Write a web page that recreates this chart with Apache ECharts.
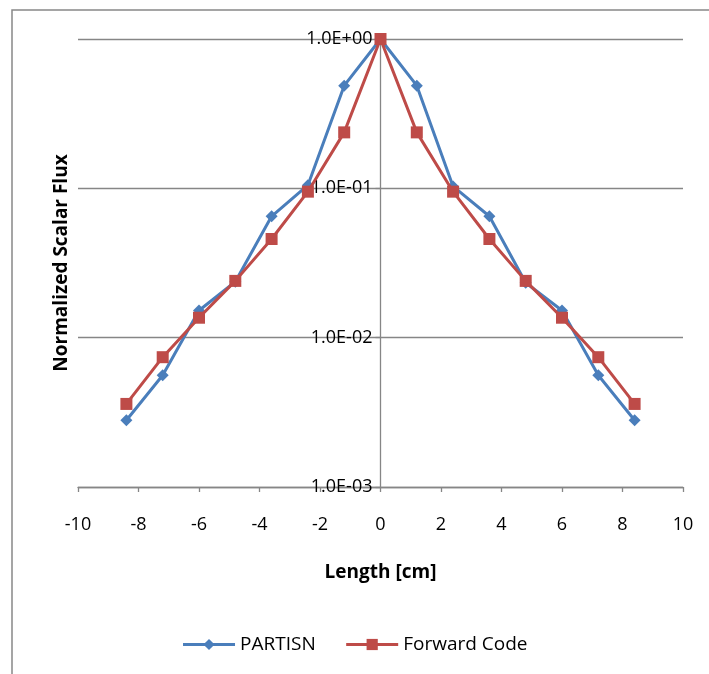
<!DOCTYPE html>
<html>
<head>
<meta charset="utf-8">
<script src="https://cdn.jsdelivr.net/npm/echarts@6/dist/echarts.min.js"></script>
<style>html,body{margin:0;padding:0;background:#fff;}#c{width:709px;height:674px;}</style>
</head>
<body>
<div id="c"></div>
<script>
var xValues = [-8.4, -7.2, -6, -4.8, -3.6, -2.4, -1.2, 0, 1.2, 2.4, 3.6, 4.8, 6, 7.2, 8.4];
var partisn = [0.0028, 0.0056, 0.0152, 0.0237, 0.065, 0.105, 0.487, 1.0, 0.487, 0.103, 0.065, 0.0233, 0.0152, 0.0056, 0.0028];
var forwardCode = [0.0036, 0.0074, 0.0136, 0.024, 0.0458, 0.095, 0.237, 1.0, 0.237, 0.095, 0.0458, 0.024, 0.0136, 0.0074, 0.0036];
var seriesNames = ['PARTISN', 'Forward Code'];
var xTitle = 'Length [cm]';
var yTitle = 'Normalized Scalar Flux';

function pairs(ys) { return xValues.map(function (x, i) { return [x, ys[i]]; }); }
function fmtE(v) {
  var e = Math.round(Math.log10(v));
  var m = v / Math.pow(10, e);
  var s = e < 0 ? '-' : '+';
  var a = Math.abs(e);
  return m.toFixed(1) + 'E' + s + (a < 10 ? '0' + a : a);
}
var font = '"Open Sans", sans-serif';
var gray = '#868686';
var gridLeft = 78, gridRight = 26;
var plotW = 709 - gridLeft - gridRight;
// y axis sits at x = 0 of the [-10, 10] x axis
var yAxisShift = -plotW * (0 - (-10)) / 20;
var chart = echarts.init(document.getElementById('c'), null, { renderer: 'canvas' });
chart.setOption({
  animation: false,
  textStyle: { fontFamily: font },
  graphic: [{
    type: 'rect', silent: true, z: -10,
    shape: { x: 12, y: 10, width: 720, height: 700 },
    style: { fill: 'none', stroke: '#888888', lineWidth: 1.5 }
  }],
  grid: { left: gridLeft, right: gridRight, top: 39, bottom: 187, containLabel: false, outerBoundsMode: 'none' },
  legend: {
    top: 630, left: 'center',
    itemWidth: 52, itemHeight: 14, itemGap: 29,
    lineStyle: { width: 3 },
    textStyle: { fontSize: 19, color: '#000', fontFamily: font },
    data: seriesNames
  },
  xAxis: {
    type: 'value', min: -10, max: 10, interval: 2,
    name: xTitle, nameLocation: 'middle', nameGap: 76,
    nameTextStyle: { fontSize: 19, fontWeight: 'bold', color: '#000', fontFamily: font },
    axisLine: { onZero: false, lineStyle: { color: gray, width: 1.3 } },
    axisTick: { show: true, length: 5, lineStyle: { color: gray, width: 1.3 } },
    axisLabel: { fontSize: 18, color: '#000', margin: 29, fontFamily: font },
    splitLine: { show: false }
  },
  yAxis: {
    type: 'log', min: 0.001, max: 1, logBase: 10,
    position: 'left', offset: yAxisShift,
    name: yTitle, nameLocation: 'middle', nameGap: 309, nameRotate: 90,
    nameTextStyle: { fontSize: 19, fontWeight: 'bold', color: '#000', fontFamily: font },
    axisLine: { onZero: false, lineStyle: { color: gray, width: 1.3 } },
    axisTick: { show: true, length: 5, lineStyle: { color: gray, width: 1.3 } },
    axisLabel: { fontSize: 18, color: '#000', margin: 8, formatter: fmtE, fontFamily: font },
    splitLine: { show: true, lineStyle: { color: gray, width: 1.3 } }
  },
  series: [
    {
      name: seriesNames[0], type: 'line', data: pairs(partisn),
      symbol: 'diamond', symbolSize: 12,
      lineStyle: { color: '#4A7EBB', width: 3 },
      itemStyle: { color: '#4A7EBB' }, z: 3
    },
    {
      name: seriesNames[1], type: 'line', data: pairs(forwardCode),
      symbol: 'rect', symbolSize: 12,
      lineStyle: { color: '#BE4B48', width: 3 },
      itemStyle: { color: '#BE4B48' }, z: 4
    }
  ]
});
</script>
</body>
</html>
